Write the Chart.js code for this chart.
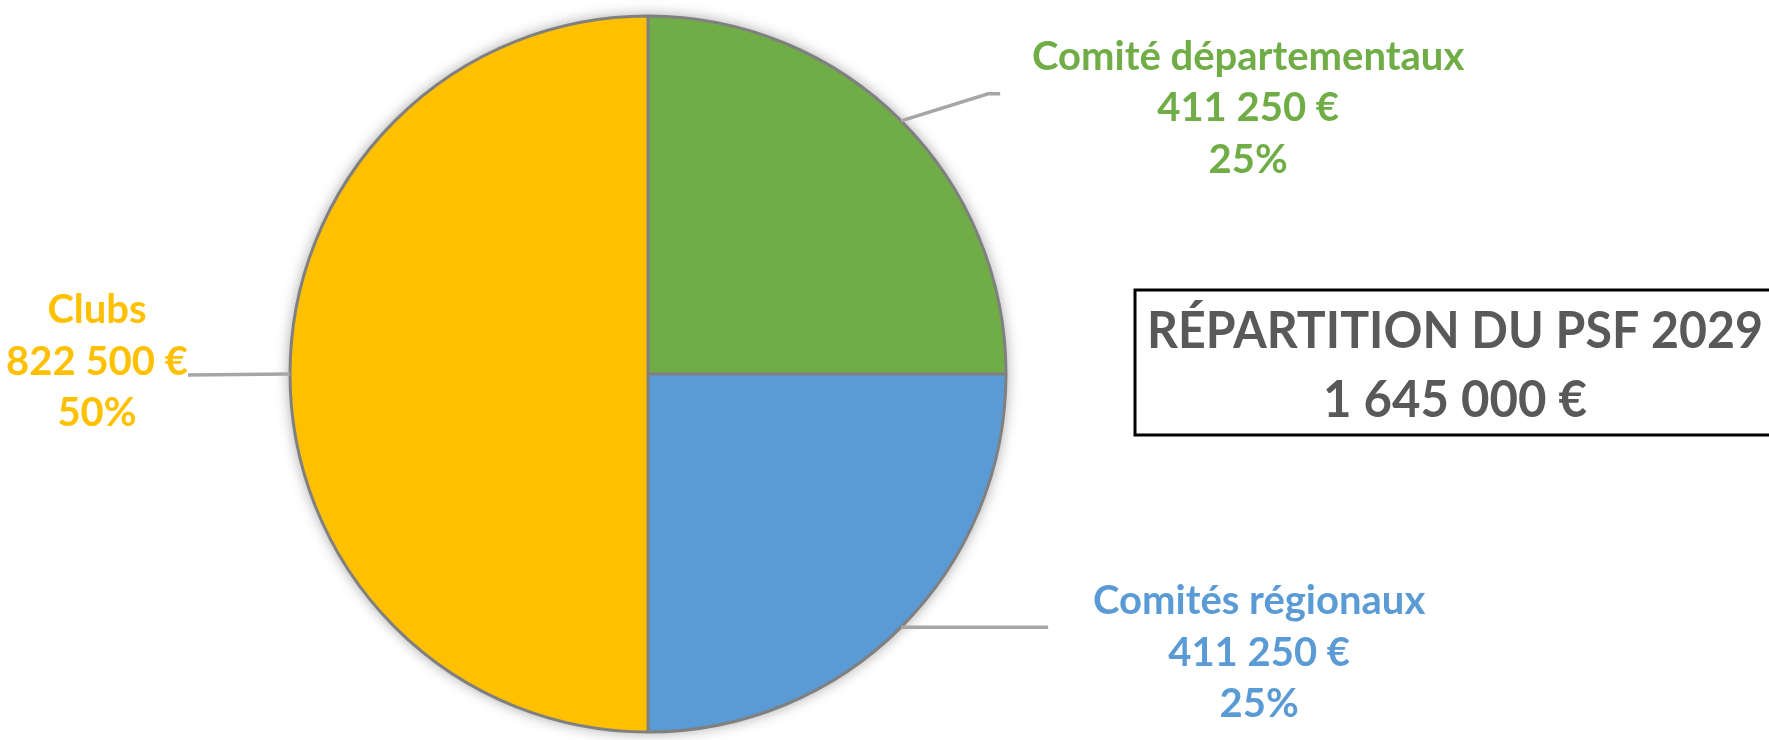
<!DOCTYPE html>
<html>
<head>
<meta charset="utf-8">
<script src="https://cdn.jsdelivr.net/npm/chart.js@4/dist/chart.umd.min.js"></script>
<style>
  html, body { margin: 0; padding: 0; background: #fff; }
  #wrap { width: 1769px; height: 740px; position: relative; }
</style>
</head>
<body>
<div id="wrap"><canvas id="psfChart"></canvas></div>
<script>
// data
const categories = ['Comité départementaux', 'Comités régionaux', 'Clubs'];
const amounts = [411250, 411250, 822500];
const titleText = 'RÉPARTITION DU PSF 2029';

const sliceColors = ['#70AD47', '#5B9BD5', '#FFC000'];
const labelFont = 'bold 40px Lato';
const titleFont = 'bold 51px Lato';
const titleMaxWidth = 616;

// where each label sits, relative to the point on the rim at the slice's middle
const labelLayout = [
  { leader: [[87, -27], [99, -27]], dx: 347, dy: -51 },
  { leader: [[147, 0]], dx: 358, dy: -13 },
  { leader: [[-102, 1]], dx: -193, dy: -51 }
];

const total = amounts.reduce((a, b) => a + b, 0);
const euro = v => String(v).replace(/\B(?=(\d{3})+(?!\d))/g, ' ') + ' €';

// squeeze text horizontally if it runs wider than maxW (Calibri is narrower than Lato)
function fitText(ctx, text, cx, y, maxW) {
  const w = ctx.measureText(text).width;
  const sx = w > maxW ? maxW / w : 1;
  ctx.save();
  ctx.translate(cx, y);
  ctx.scale(sx, 1);
  ctx.fillText(text, 0, 0);
  ctx.restore();
}

const sliceLabels = {
  id: 'sliceLabels',
  beforeDatasetsDraw(chart) {
    const ctx = chart.ctx;
    const arc = chart.getDatasetMeta(0).data[0];
    const { x, y, outerRadius } = arc.getProps(['x', 'y', 'outerRadius'], true);
    // soft shadow behind the pie
    ctx.save();
    ctx.shadowColor = 'rgba(0,0,0,0.35)';
    ctx.shadowBlur = 14;
    ctx.beginPath();
    ctx.arc(x, y, outerRadius + 1, 0, Math.PI * 2);
    ctx.fillStyle = '#fff';
    ctx.fill();
    ctx.restore();
  },
  afterDatasetsDraw(chart) {
    const ctx = chart.ctx;
    const meta = chart.getDatasetMeta(0);
    meta.data.forEach((arc, i) => {
      const p = arc.getProps(['x', 'y', 'startAngle', 'endAngle', 'outerRadius'], true);
      const mid = (p.startAngle + p.endAngle) / 2;
      const ex = p.x + Math.cos(mid) * p.outerRadius;
      const ey = p.y + Math.sin(mid) * p.outerRadius;
      const lay = labelLayout[i];

      ctx.save();
      ctx.strokeStyle = '#A6A6A6';
      ctx.lineWidth = 3.5;
      ctx.beginPath();
      ctx.moveTo(ex, ey);
      lay.leader.forEach(pt => ctx.lineTo(ex + pt[0], ey + pt[1]));
      ctx.stroke();

      const lines = [categories[i], euro(amounts[i]), Math.round(amounts[i] / total * 100) + '%'];
      ctx.fillStyle = sliceColors[i];
      ctx.font = labelFont;
      ctx.textAlign = 'center';
      ctx.textBaseline = 'alphabetic';
      lines.forEach((t, k) => ctx.fillText(t, ex + lay.dx, ey + lay.dy + k * 51.5));
      ctx.restore();
    });

    // title box
    ctx.save();
    ctx.strokeStyle = '#000';
    ctx.lineWidth = 3;
    ctx.strokeRect(1135, 290, 700, 145);
    ctx.fillStyle = '#595959';
    ctx.font = titleFont;
    ctx.textAlign = 'center';
    fitText(ctx, titleText, 1455, 348, titleMaxWidth);
    fitText(ctx, euro(total), 1455, 417, 264);
    ctx.restore();
  }
};

new Chart(document.getElementById('psfChart').getContext('2d'), {
  type: 'pie',
  data: {
    labels: categories,
    datasets: [{
      data: amounts,
      backgroundColor: sliceColors,
      borderColor: '#808080',
      borderWidth: 3
    }]
  },
  options: {
    responsive: true,
    maintainAspectRatio: false,
    animation: false,
    radius: 358,
    layout: { padding: { left: 0, right: 473, top: 8, bottom: 0 } },
    plugins: {
      legend: { display: false },
      tooltip: { enabled: false }
    }
  },
  plugins: [sliceLabels]
});
</script>
</body>
</html>
